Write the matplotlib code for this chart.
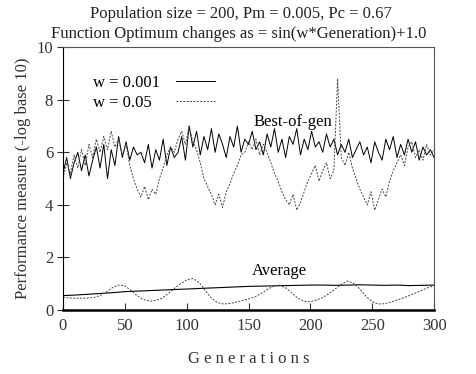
import numpy as np
import matplotlib
matplotlib.use("Agg")
import matplotlib.pyplot as plt

plt.rcParams['font.family'] = ['Liberation Serif', 'DejaVu Serif']

# Best-of-generation performance, sampled every 3 generations
best_gens = np.arange(0, 301, 3)
best_w001 = [5.2, 5.8, 5.0, 5.6, 6.0, 5.3, 5.9, 5.1, 5.7, 6.2, 5.4,
             6.3, 5.0, 6.1, 5.5, 6.6, 5.8, 6.4, 5.7, 6.2, 5.9,
             6.0, 5.6, 6.3, 5.4, 6.1, 5.7, 6.5, 5.5, 6.2, 5.8,
             6.0, 6.6, 5.7, 7.0, 6.2, 6.8, 5.9, 6.6, 6.1, 6.9,
             6.0, 6.7, 6.3, 5.8, 6.6, 6.2, 7.0, 6.0, 6.5, 6.3,
             6.8, 6.1, 6.4, 5.9, 6.7, 6.2, 6.9, 6.0, 6.5, 5.8,
             6.6, 6.3, 6.9, 5.9, 6.5, 6.1, 6.8, 6.2, 6.4, 6.0,
             6.7, 6.2, 6.5, 5.9, 6.3, 6.0, 6.5, 5.8, 6.1, 6.4,
             5.9, 6.2, 5.6, 6.4, 6.0, 5.7, 6.5, 6.1, 6.6, 5.8,
             6.3, 5.9, 6.5, 6.0, 6.4, 5.7, 6.2, 5.9, 6.1, 5.8]
best_w05 = [5.0, 5.6, 5.2, 5.9, 5.4, 6.1, 5.5, 6.3, 5.8, 6.5, 6.0,
            6.6, 6.1, 6.8, 6.2, 6.5, 5.9, 6.3, 5.5, 5.0, 4.6,
            4.3, 4.7, 4.2, 4.6, 4.4, 5.0, 5.4, 5.9, 6.2, 6.0,
            6.5, 6.8, 6.3, 7.0, 6.4, 6.1, 5.6, 5.0, 4.7, 4.4,
            4.0, 4.4, 3.9, 4.5, 4.8, 5.2, 5.5, 5.9, 6.0, 6.4,
            6.1, 6.5, 5.9, 6.3, 6.0, 5.6, 5.2, 4.9, 4.5, 4.2,
            4.0, 4.4, 3.8, 4.1, 4.5, 4.9, 5.2, 5.5, 4.9, 5.3,
            5.6, 5.0, 5.3, 8.8, 5.8, 5.5, 6.0, 5.4, 5.0, 4.6,
            4.3, 4.0, 4.5, 3.8, 4.2, 4.6, 4.3, 4.9, 5.3, 5.6,
            5.9, 5.5, 6.2, 6.4, 5.8, 6.1, 5.7, 6.3, 5.9, 6.1]

# Average performance
avg_gens_w001 = np.arange(0, 301, 10)
avg_w001 = [0.55, 0.57, 0.60, 0.63, 0.66, 0.70, 0.72, 0.74, 0.76, 0.78, 0.80,
            0.82, 0.84, 0.86, 0.88, 0.90, 0.91, 0.92, 0.93, 0.94, 0.95,
            0.95, 0.94, 0.95, 0.96, 0.95, 0.94, 0.95, 0.93, 0.94, 0.95]
avg_gens_w05 = np.arange(0, 301, 5)
avg_w05 = [0.48, 0.46, 0.45, 0.45, 0.46, 0.48, 0.55, 0.68, 0.85, 0.95,
           0.92, 0.75, 0.55, 0.40, 0.34, 0.36, 0.45, 0.62, 0.82, 1.00,
           1.15, 1.20, 1.05, 0.75, 0.45, 0.28, 0.23, 0.25, 0.30, 0.36,
           0.42, 0.50, 0.62, 0.78, 0.90, 0.95, 0.85, 0.65, 0.45, 0.33,
           0.32, 0.38, 0.48, 0.62, 0.80, 0.98, 1.10, 1.02, 0.80, 0.52,
           0.32, 0.23, 0.24, 0.30, 0.38, 0.46, 0.55, 0.65, 0.75, 0.85,
           0.92]

dash = (0, (2.0, 1.5))

fig = plt.figure(figsize=(4.77, 3.74), dpi=100)
ax = fig.add_axes([0.132, 0.171, 0.778, 0.703])

ax.plot(best_gens, best_w001, color='black', lw=0.7, label='w = 0.001')
ax.plot(best_gens, best_w05, color='#444444', lw=0.7, ls=dash, label='w = 0.05  ')
ax.plot(avg_gens_w001, avg_w001, color='black', lw=0.8)
ax.plot(avg_gens_w05, avg_w05, color='#444444', lw=0.7, ls=dash)

ax.text(186, 7.15, 'Best-of-gen', fontsize=12, ha='center', va='center')
ax.text(175, 1.48, 'Average', fontsize=12, ha='center', va='center')

ax.set_xlim(0, 300)
ax.set_ylim(0, 10)
ax.set_xticks(range(0, 301, 50))
ax.set_yticks(range(0, 11, 2))
ax.tick_params(axis='x', direction='in', length=5, labelsize=12, pad=6, colors='#333333')
ax.tick_params(axis='y', direction='inout', length=8, labelsize=12, pad=3, colors='#333333')
for s in ['top', 'right']:
    ax.spines[s].set_linewidth(0.8)
    ax.spines[s].set_color('#555555')
ax.spines['left'].set_linewidth(0.8)
ax.spines['bottom'].set_linewidth(1.8)

ax.set_ylabel('Performance measure (-log base 10)', fontsize=12, color='#333333', labelpad=4)
ax.set_xlabel('G e n e r a t i o n s', fontsize=12, color='#333333', labelpad=12)

leg = ax.legend(loc='upper left', bbox_to_anchor=(0.04, 0.95), frameon=False,
                markerfirst=False, handlelength=2.3, handletextpad=1.0,
                labelspacing=0.2, fontsize=12)

fig.text(0.505, 0.962, 'Population size = 200, Pm = 0.005, Pc = 0.67',
         ha='center', va='center', fontsize=12, color='#222222')
fig.text(0.50, 0.91, 'Function Optimum changes as = sin(w*Generation)+1.0',
         ha='center', va='center', fontsize=12, color='#222222')

fig.savefig('out.png', dpi=100)
